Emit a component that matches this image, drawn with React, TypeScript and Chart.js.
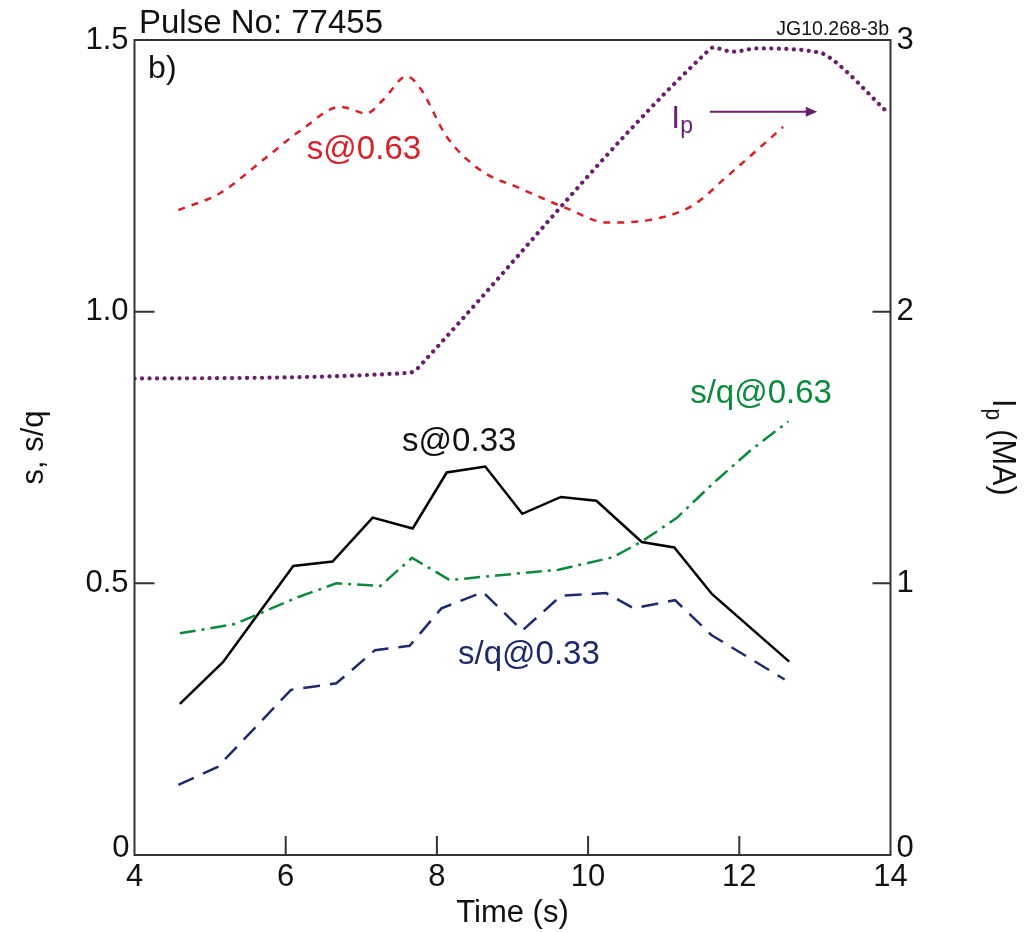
import React, { useEffect, useRef } from "react";
import { Chart, registerables } from "chart.js";

Chart.register(...registerables);

const FONT = '"Liberation Sans", Arial, Helvetica, sans-serif';
const NARROW = '"Liberation Sans Narrow", "Liberation Sans", Arial, sans-serif';

// s@0.33 (solid black)
const s033Time = [4.6, 5.17, 6.1, 6.62, 7.15, 7.68, 8.13, 8.64, 9.13, 9.64, 10.11, 10.71, 11.14, 11.64, 12.66];
const s033Values = [0.278, 0.355, 0.532, 0.54, 0.621, 0.601, 0.704, 0.715, 0.628, 0.659, 0.652, 0.576, 0.566, 0.48, 0.356];

// s/q@0.33 (navy dashed)
const sq033Time = [4.58, 5.1, 6.07, 6.67, 7.18, 7.64, 8.06, 8.61, 9.13, 9.64, 10.24, 10.6, 11.15, 11.63, 12.6];
const sq033Values = [0.129, 0.162, 0.304, 0.316, 0.377, 0.385, 0.454, 0.484, 0.413, 0.477, 0.482, 0.454, 0.469, 0.405, 0.323];

// s/q@0.63 (green dash-dot)
const sq063Time = [4.6, 5.33, 6.15, 6.67, 7.25, 7.67, 8.17, 8.83, 9.61, 10.33, 10.71, 11.17, 11.66, 12.15, 12.65];
const sq063Values = [0.408, 0.425, 0.474, 0.5, 0.495, 0.547, 0.506, 0.515, 0.525, 0.548, 0.577, 0.62, 0.685, 0.745, 0.798];

// s@0.63 (red dashed, smooth)
const s063Time = [4.58, 5.13, 5.7, 6.23, 6.72, 7.07, 7.29, 7.6, 7.78, 8.13, 8.57, 9.1, 9.72, 10.25, 10.78, 11.39, 11.83, 12.58];
const s063Values = [1.187, 1.218, 1.279, 1.337, 1.377, 1.365, 1.39, 1.433, 1.411, 1.322, 1.261, 1.227, 1.19, 1.164, 1.168, 1.196, 1.248, 1.34];

// Ip (MA), right axis (purple dotted)
const ipTime = [4.0, 7.64, 7.74, 7.84, 11.55, 11.65, 11.92, 12.23, 13.07, 13.24, 13.95];
const ipValues = [1.754, 1.775, 1.79, 1.82, 2.95, 2.972, 2.957, 2.969, 2.953, 2.926, 2.736];

const xTicks = [4, 6, 8, 10, 12, 14];
const leftTicks = [0, 0.5, 1.0, 1.5];
const rightTicks = [0, 1, 2, 3];

const pts = (xs: number[], ys: number[]) => xs.map((x, i) => ({ x, y: ys[i] }));

const decor = {
  id: "decor",
  afterDraw(chart: any) {
    const { ctx, chartArea: a, scales } = chart;
    const x = scales.x, y = scales.y, y2 = scales.y2;
    const X = (v: number) => x.getPixelForValue(v);
    const Y = (v: number) => y.getPixelForValue(v);
    ctx.save();
    // frame
    ctx.strokeStyle = "#333";
    ctx.lineWidth = 2;
    ctx.strokeRect(a.left, a.top, a.right - a.left, a.bottom - a.top);
    // inner ticks
    ctx.beginPath();
    for (const v of xTicks.slice(1, -1)) {
      ctx.moveTo(X(v), a.bottom);
      ctx.lineTo(X(v), a.bottom - 19);
    }
    for (const v of leftTicks.slice(1, -1)) {
      ctx.moveTo(a.left, Y(v));
      ctx.lineTo(a.left + 20, Y(v));
    }
    for (const v of rightTicks.slice(1, -1)) {
      const py = y2.getPixelForValue(v);
      ctx.moveTo(a.right, py);
      ctx.lineTo(a.right - 18, py);
    }
    ctx.stroke();

    // zero labels, sitting on the bottom axis line
    ctx.fillStyle = "#111";
    ctx.font = `31px ${NARROW}`;
    ctx.textBaseline = "alphabetic";
    ctx.textAlign = "right";
    ctx.fillText(String(leftTicks[0]), a.left - 5, a.bottom + 2);
    ctx.textAlign = "left";
    ctx.fillText(String(rightTicks[0]), a.right + 6, a.bottom + 2);

    // header texts
    ctx.font = `33px ${FONT}`;
    ctx.fillText("Pulse No: 77455", 139, 33);
    ctx.font = `19.5px ${FONT}`;
    ctx.textAlign = "right";
    ctx.fillText("JG10.268-3b", 889, 35);
    ctx.textAlign = "left";
    ctx.font = `32px ${FONT}`;
    ctx.fillText("b)", X(4.18), Y(1.43));

    // series labels
    ctx.font = `33px ${FONT}`;
    ctx.fillStyle = "#d7202a";
    ctx.fillText("s@0.63", X(6.28), Y(1.281));
    ctx.fillStyle = "#111";
    ctx.fillText("s@0.33", X(7.54), Y(0.744));
    ctx.fillStyle = "#0b8a3e";
    ctx.fillText("s/q@0.63", X(11.35), Y(0.832));
    ctx.fillStyle = "#1f2a6b";
    ctx.fillText("s/q@0.33", X(8.28), Y(0.352));

    // Ip label + arrow
    ctx.fillStyle = "#6b1d6e";
    ctx.strokeStyle = "#6b1d6e";
    ctx.font = `32px ${FONT}`;
    ctx.fillText("I", X(11.1), Y(1.338));
    ctx.font = `23px ${FONT}`;
    ctx.fillText("p", X(11.1) + 9, Y(1.338) + 5);
    const ay = Y(1.368);
    ctx.lineWidth = 2;
    ctx.beginPath();
    ctx.moveTo(X(11.61), ay);
    ctx.lineTo(X(12.9), ay);
    ctx.stroke();
    ctx.beginPath();
    ctx.moveTo(X(13.03), ay);
    ctx.lineTo(X(12.88), ay - 5);
    ctx.lineTo(X(12.88), ay + 5);
    ctx.closePath();
    ctx.fill();

    // right axis title: Ip (MA)
    ctx.fillStyle = "#111";
    ctx.translate(993, 399);
    ctx.rotate(Math.PI / 2);
    ctx.scale(0.9, 1);
    ctx.font = `34px ${NARROW}`;
    ctx.fillText("I", 0, 0);
    const iw = ctx.measureText("I").width;
    ctx.font = `23px ${NARROW}`;
    ctx.fillText("p", iw + 1, 7);
    const pw = ctx.measureText("p").width;
    ctx.font = `34px ${NARROW}`;
    ctx.fillText(" (MA)", iw + pw + 2, 0);
    ctx.restore();
  },
};

export default function App() {
  const ref = useRef<HTMLCanvasElement>(null);
  useEffect(() => {
    const tickFont = { family: NARROW, size: 31 };
    const chart = new Chart(ref.current as HTMLCanvasElement, {
      type: "line",
      data: {
        datasets: [
          {
            label: "Ip",
            data: pts(ipTime, ipValues),
            yAxisID: "y2",
            borderColor: "#6b1d6e",
            borderWidth: 4.2,
            borderDash: [0.1, 7.4],
            borderCapStyle: "round",
            cubicInterpolationMode: "monotone",
            pointRadius: 0,
          },
          {
            label: "s@0.63",
            data: pts(s063Time, s063Values),
            yAxisID: "y",
            borderColor: "#d7202a",
            borderWidth: 2.5,
            borderDash: [7, 7],
            cubicInterpolationMode: "monotone",
            pointRadius: 0,
          },
          {
            label: "s/q@0.63",
            data: pts(sq063Time, sq063Values),
            yAxisID: "y",
            borderColor: "#0b8a3e",
            borderWidth: 2.5,
            borderDash: [16, 6, 3, 6],
            pointRadius: 0,
            tension: 0,
          },
          {
            label: "s/q@0.33",
            data: pts(sq033Time, sq033Values),
            yAxisID: "y",
            borderColor: "#1f2a6b",
            borderWidth: 2.5,
            borderDash: [17, 10],
            pointRadius: 0,
            tension: 0,
          },
          {
            label: "s@0.33",
            data: pts(s033Time, s033Values),
            yAxisID: "y",
            borderColor: "#000",
            borderWidth: 2.5,
            pointRadius: 0,
            tension: 0,
          },
        ],
      },
      options: {
        animation: false,
        responsive: true,
        maintainAspectRatio: false,
        layout: { padding: { top: 40, left: 0, right: 0, bottom: 0 } },
        plugins: { legend: { display: false }, tooltip: { enabled: false } },
        scales: {
          x: {
            type: "linear",
            min: 4,
            max: 14,
            position: "bottom",
            afterBuildTicks: (s: any) => { s.ticks = xTicks.map((v) => ({ value: v })); },
            afterFit: (s: any) => { s.height = 77; },
            ticks: { font: tickFont, color: "#111", padding: 4, maxRotation: 0 },
            grid: { display: false, drawTicks: false },
            border: { display: false },
            title: { display: true, text: "Time (s)", font: { family: NARROW, size: 31 }, color: "#111", padding: { top: 2, bottom: 0 } },
          },
          y: {
            type: "linear",
            min: 0,
            max: 1.5,
            position: "left",
            afterBuildTicks: (s: any) => { s.ticks = leftTicks.map((v) => ({ value: v })); },
            afterFit: (s: any) => { s.width = 134.5; },
            ticks: {
              font: tickFont,
              color: "#111",
              padding: 6,
              callback: (v: any) => (Number(v) === 0 ? "" : Number(v).toFixed(1)),
            },
            grid: { display: false, drawTicks: false },
            border: { display: false },
            title: { display: true, text: "s, s/q", font: { family: NARROW, size: 31 }, color: "#111", padding: { top: 16, bottom: 0 } },
          },
          y2: {
            type: "linear",
            min: 0,
            max: 3,
            position: "right",
            afterBuildTicks: (s: any) => { s.ticks = rightTicks.map((v) => ({ value: v })); },
            afterFit: (s: any) => { s.width = 139.5; },
            ticks: { font: tickFont, color: "#111", padding: 6, callback: (v: any) => (Number(v) === 0 ? "" : String(v)) },
            grid: { display: false, drawTicks: false },
            border: { display: false },
          },
        },
      },
      plugins: [decor],
    } as any);
    return () => chart.destroy();
  }, []);
  return (
    <div style={{ position: "fixed", left: 0, top: 0, width: 1030, height: 932, background: "#fff" }}>
      <canvas ref={ref} />
    </div>
  );
}
